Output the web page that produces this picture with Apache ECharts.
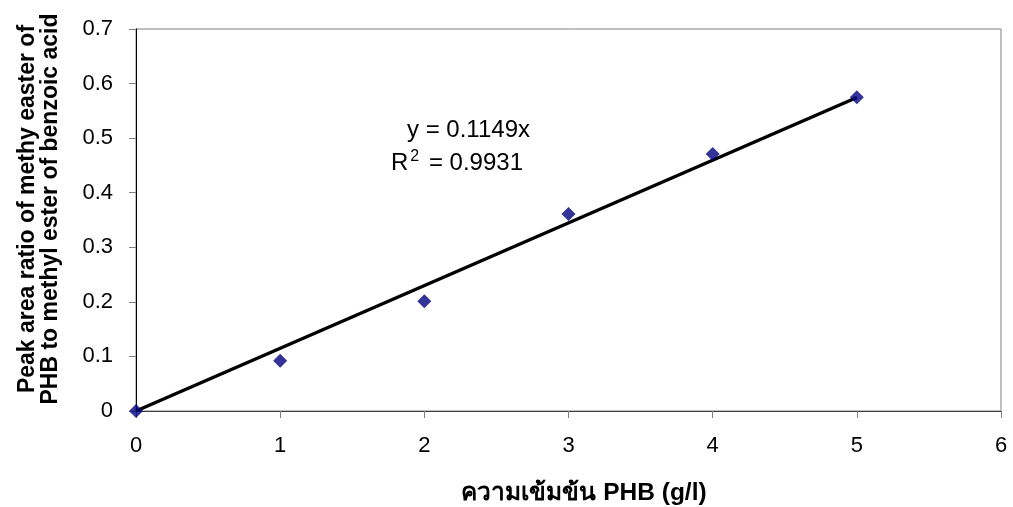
<!DOCTYPE html>
<html><head><meta charset="utf-8">
<script src="https://cdn.jsdelivr.net/npm/echarts@6/dist/echarts.min.js"></script>
<style>html,body{margin:0;padding:0;background:#fff}#c{width:1013px;height:507px}</style>
</head><body><div id="c"></div>
<script>
const xValues = [0, 1, 2, 3, 4, 5];
const yValues = [0, 0.092, 0.201, 0.361, 0.471, 0.575];
const slope = 0.1149;
const r2 = 0.9931;
const trendX = [0, 5];
const xTitle = 'ความเข้มข้น PHB (g/l)';
const yTitle = 'Peak area ratio of methy easter of\nPHB to methyl ester of benzoic acid';

const font = '"Liberation Sans", Arial, sans-serif';
const chart = echarts.init(document.getElementById('c'));
chart.setOption({
  animation: false,
  backgroundColor: '#fff',
  grid: {left: 136, right: 12, top: 29, bottom: 96, show: true, borderColor: '#808080', borderWidth: 1},
  xAxis: {
    type: 'value', min: 0, max: 6, interval: 1,
    axisLine: {lineStyle: {color: '#404040', width: 1}},
    axisTick: {show: true, inside: false, length: 7, lineStyle: {color: '#808080'}},
    axisLabel: {fontFamily: font, fontSize: 22, color: '#000', margin: 24},
    splitLine: {show: false}
  },
  yAxis: {
    type: 'value', min: 0, max: 0.7, interval: 0.1,
    axisLine: {show: true, lineStyle: {color: '#000', width: 1}},
    axisTick: {show: true, inside: false, length: 7, lineStyle: {color: '#808080'}},
    axisLabel: {fontFamily: font, fontSize: 22, color: '#000', margin: 23,
      formatter: v => String(Math.round(v * 10) / 10)},
    splitLine: {show: false}
  },
  series: [
    {
      type: 'line',
      data: trendX.map(x => [x, +(slope * x).toFixed(4)]),
      showSymbol: false, symbol: 'none',
      lineStyle: {color: '#000', width: 3.5},
      z: 2
    },
    {
      type: 'scatter',
      data: xValues.map((x, i) => [x, yValues[i]]),
      symbol: 'diamond', symbolSize: [14, 14],
      itemStyle: {color: '#000080'},
      z: 3
    }
  ],
  graphic: [
    {type: 'text', x: 39, y: 209, rotation: Math.PI / 2,
      style: {text: yTitle, font: 'bold 23px ' + font, fill: '#000', align: 'center', verticalAlign: 'middle', lineHeight: 23}},
    {type: 'text', x: 584, y: 493,
      style: {text: xTitle, font: 'bold 24.5px ' + font, fill: '#000', align: 'center', verticalAlign: 'middle'}},
    {type: 'text', x: 407, y: 130,
      style: {text: 'y = ' + slope + 'x', font: '24px ' + font, fill: '#000', align: 'left', verticalAlign: 'middle'}},
    {type: 'text', x: 391, y: 163,
      style: {
        text: 'R{sup|2} = ' + r2,
        font: '24px ' + font, fill: '#000', align: 'left', verticalAlign: 'middle',
        rich: {sup: {fontSize: 16, fontFamily: font, fill: '#000', padding: [0, 3, 12, 2]}}
      }}
  ]
});
</script></body></html>
